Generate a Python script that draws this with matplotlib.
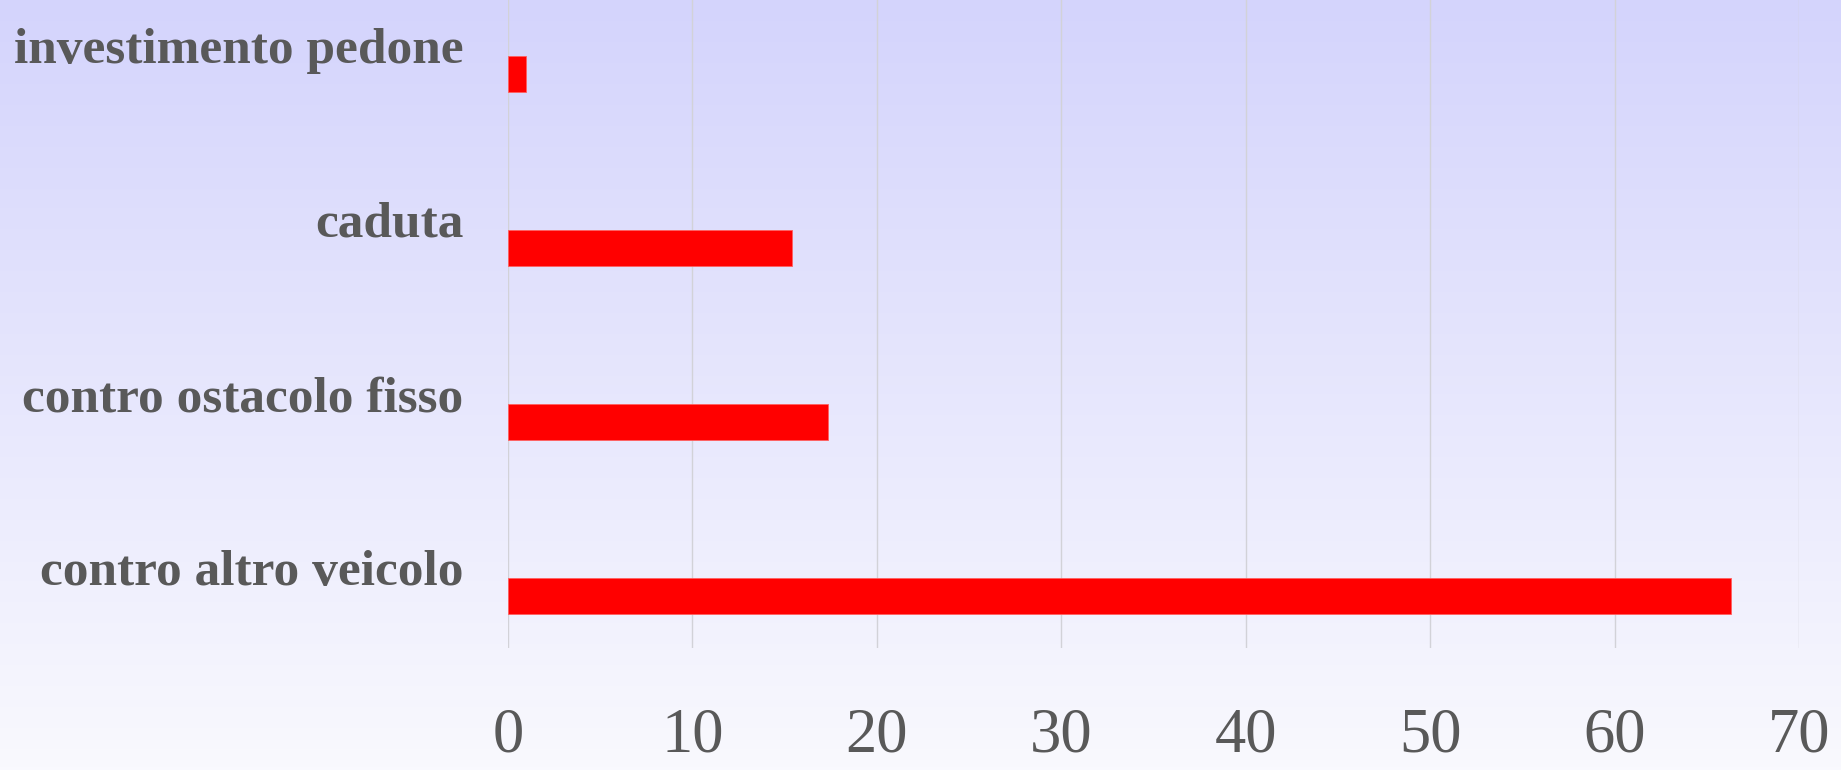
import matplotlib
matplotlib.use("Agg")
import matplotlib.pyplot as plt
import numpy as np

categories = ["contro altro veicolo", "contro ostacolo fisso", "caduta", "investimento pedone"]
values = [66.3, 17.35, 15.4, 1.0]
x_ticks = [0, 10, 20, 30, 40, 50, 60, 70]

text_color = "#595959"
bar_color = "#ff0000"
grid_color = "#d2d2d8"

W, H = 1841, 770
fig = plt.figure(figsize=(W / 100, H / 100), dpi=100)

# background gradient, lavender at top fading to near white
bg = fig.add_axes([0, 0, 1, 1], zorder=-10)
top = np.array([0xd4, 0xd4, 0xfc]) / 255
bottom = np.array([0xf9, 0xf9, 0xfe]) / 255
t = np.linspace(0, 1, 256)[:, None]
grad = (top * (1 - t) + bottom * t)[:, None, :]
bg.imshow(grad, aspect="auto", extent=[0, 1, 0, 1])
bg.axis("off")

left = 508 / W
right = 1799 / W
bot = 1 - 648 / H
ax = fig.add_axes([left, bot, right - left, 1 - bot])
ax.patch.set_alpha(0)

ypos = np.arange(len(categories))
ax.barh(ypos, values, height=0.21, color=bar_color, edgecolor="#ff6060",
        linewidth=0.6, zorder=3)

ax.set_xlim(0, 70)
ax.set_ylim(-0.299, 3.425)
ax.set_xticks(x_ticks)
ax.set_xticklabels([str(v) for v in x_ticks])
ax.set_yticks(ypos + 0.063)
ax.set_yticklabels(categories)

ax.grid(axis="x", color=grid_color, linewidth=1.0, zorder=0)
ax.grid(axis="y", visible=False)
for s in ax.spines.values():
    s.set_visible(False)

ax.tick_params(axis="x", length=0, pad=64, labelsize=45, labelcolor=text_color)
ax.tick_params(axis="y", length=0, pad=32, labelsize=37, labelcolor=text_color)
for lab in ax.get_xticklabels():
    lab.set_fontfamily("Liberation Serif")
    lab.set_va("center")
for lab in ax.get_yticklabels():
    lab.set_fontfamily("Liberation Serif")
    lab.set_fontweight("bold")
    lab.set_va("baseline")

fig.savefig("out.png", dpi=100)
